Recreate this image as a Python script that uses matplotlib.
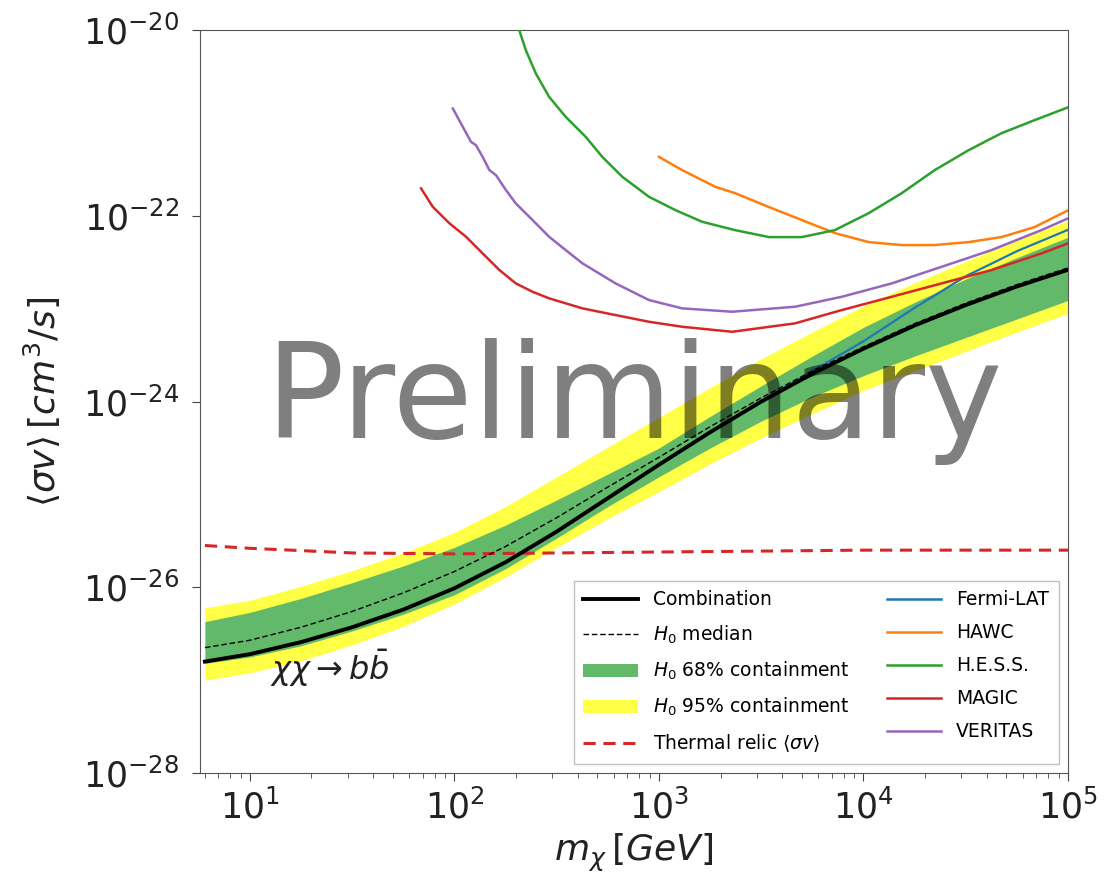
import numpy as np
import matplotlib
matplotlib.use("Agg")
import matplotlib.pyplot as plt
from matplotlib.patches import Patch
from matplotlib.lines import Line2D

# ---- data: log10(mass / GeV) and log10(<sigma v> / cm^3 s^-1) ----
band_logm = [0.78, 1.0, 1.25, 1.5, 1.75, 2.0, 2.25, 2.5, 2.75, 3.0, 3.25, 3.5, 3.75, 4.0, 4.25, 4.5, 4.75, 5.0]
comb_log = [-26.80, -26.72, -26.59, -26.43, -26.24, -26.01, -25.73, -25.40, -25.04, -24.68, -24.33, -24.00,
            -23.70, -23.43, -23.18, -22.96, -22.76, -22.58]
median_log = [-26.65, -26.57, -26.43, -26.26, -26.06, -25.83, -25.56, -25.25, -24.92, -24.60, -24.27, -23.96,
              -23.67, -23.41, -23.16, -22.94, -22.74, -22.56]
g68_hi_log = [-26.37, -26.27, -26.12, -25.95, -25.77, -25.57, -25.33, -25.06, -24.78, -24.50, -24.16, -23.83,
              -23.51, -23.20, -22.93, -22.68, -22.45, -22.23]
g68_lo_log = [-26.82, -26.75, -26.63, -26.47, -26.29, -26.08, -25.80, -25.47, -25.13, -24.81, -24.50, -24.21,
              -23.95, -23.72, -23.51, -23.31, -23.11, -22.91]
y95_hi_log = [-26.22, -26.14, -25.99, -25.82, -25.63, -25.41, -25.13, -24.81, -24.49, -24.17, -23.85, -23.54,
              -23.25, -22.97, -22.72, -22.49, -22.26, -22.05]
y95_lo_log = [-27.00, -26.92, -26.79, -26.62, -26.42, -26.18, -25.89, -25.57, -25.26, -24.97, -24.67, -24.39,
              -24.13, -23.88, -23.67, -23.46, -23.25, -23.05]

thermal_logm = [0.78, 1.0, 1.5, 2.0, 2.5, 3.0, 3.5, 4.0, 4.5, 5.0]
thermal_log = [-25.55, -25.58, -25.63, -25.64, -25.63, -25.62, -25.61, -25.60, -25.60, -25.60]

fermi_logm = [0.78, 1.0, 1.25, 1.5, 1.75, 2.0, 2.25, 2.5, 2.75, 3.0, 3.25, 3.5, 3.75, 4.0, 4.25, 4.5, 4.75, 5.0]
fermi_log = [-26.80, -26.72, -26.59, -26.43, -26.24, -26.01, -25.73, -25.40, -25.04, -24.68, -24.33, -24.00,
             -23.67, -23.35, -22.99, -22.65, -22.38, -22.15]

hawc_logm = [3.000, 3.114, 3.276, 3.372, 3.538, 3.699, 3.860, 4.026, 4.187, 4.348, 4.514, 4.675, 4.836, 5.002]
hawc_log = [-21.364, -21.507, -21.687, -21.755, -21.905, -22.045, -22.185, -22.282, -22.314, -22.314, -22.282,
            -22.228, -22.121, -21.938]

hess_logm = [2.317, 2.349, 2.398, 2.463, 2.544, 2.642, 2.723, 2.821, 2.951, 3.081, 3.211, 3.372, 3.538, 3.699,
             3.860, 4.026, 4.187, 4.348, 4.514, 4.675, 4.836, 5.002]
hess_log = [-20.000, -20.215, -20.466, -20.718, -20.933, -21.149, -21.364, -21.579, -21.794, -21.938, -22.063,
            -22.153, -22.228, -22.228, -22.153, -21.970, -21.755, -21.507, -21.292, -21.109, -20.969, -20.829]

magic_logm = [1.837, 1.894, 1.976, 2.057, 2.138, 2.220, 2.300, 2.382, 2.463, 2.626, 2.788, 2.951, 3.114, 3.358,
              3.666, 3.894, 4.138, 4.382, 4.626, 4.870, 5.000]
magic_log = [-21.704, -21.902, -22.081, -22.225, -22.404, -22.583, -22.727, -22.817, -22.888, -22.996, -23.068,
             -23.140, -23.194, -23.248, -23.157, -23.014, -22.871, -22.727, -22.583, -22.404, -22.296]

veritas_logm = [1.992, 2.041, 2.081, 2.105, 2.138, 2.171, 2.203, 2.252, 2.300, 2.382, 2.463, 2.544, 2.626, 2.707,
                2.788, 2.951, 3.114, 3.358, 3.666, 3.894, 4.138, 4.382, 4.626, 4.870, 5.000]
veritas_log = [-20.843, -21.041, -21.202, -21.238, -21.364, -21.507, -21.561, -21.722, -21.865, -22.045, -22.225,
               -22.368, -22.511, -22.619, -22.727, -22.906, -22.996, -23.032, -22.978, -22.871, -22.727, -22.548,
               -22.368, -22.153, -22.027]

GREEN = "#62b96a"
YELLOW = "#ffff45"


def p(a):
    return 10.0 ** np.asarray(a)


fig = plt.figure(figsize=(11.05, 8.89), dpi=100)
ax = fig.add_axes([0.181, 0.1305, 0.7855, 0.8355])
ax.set_xscale("log")
ax.set_yscale("log")

m = p(band_logm)
ax.fill_between(m, p(y95_lo_log), p(y95_hi_log), color=YELLOW, lw=0, zorder=1)
ax.fill_between(m, p(g68_lo_log), p(g68_hi_log), color=GREEN, lw=0, zorder=2)

ax.plot(p(fermi_logm), p(fermi_log), color="tab:blue", lw=1.6, zorder=3)
ax.plot(p(hawc_logm), p(hawc_log), color="tab:orange", lw=1.8, zorder=3)
ax.plot(p(hess_logm), p(hess_log), color="tab:green", lw=1.8, zorder=3)
ax.plot(p(magic_logm), p(magic_log), color="tab:red", lw=1.8, zorder=3)
ax.plot(p(veritas_logm), p(veritas_log), color="tab:purple", lw=1.8, zorder=3)

ax.plot(p(thermal_logm), p(thermal_log), color="tab:red", ls=(0, (4, 2.5)), lw=2.2, zorder=3)
ax.plot(m, p(comb_log), color="black", lw=2.8, zorder=5)
ax.plot(m, p(median_log), color="black", lw=1.0, ls=(0, (4, 2)), zorder=6)

ax.set_xlim(5.7, 1e5)
ax.set_ylim(1e-28, 1e-20)
ax.set_yticks([1e-28, 1e-26, 1e-24, 1e-22, 1e-20])
ax.yaxis.set_minor_locator(matplotlib.ticker.NullLocator())
ax.tick_params(axis="both", which="major", labelsize=25, length=6, color="#444444", labelcolor="#222222")
ax.tick_params(axis="y", which="major", pad=9)
ax.tick_params(axis="x", which="major", pad=6)
ax.tick_params(axis="x", which="minor", length=3.5, color="#444444")
for s in ax.spines.values():
    s.set_color("#555555")

ax.set_xlabel(r"$m_\chi\,[GeV]$", fontsize=26, labelpad=4, color="#222222")
ax.set_ylabel(r"$\langle\sigma v\rangle\,[cm^3/s]$", fontsize=26, labelpad=14, color="#222222")

ax.text(0.5, 0.451, "Preliminary", transform=ax.transAxes, ha="center", va="baseline",
        fontsize=94, color="black", alpha=0.5, zorder=10)
ax.text(0.081, 0.125, r"$\chi\chi\to b\bar{b}$", transform=ax.transAxes, fontsize=23,
        color="#222222", zorder=7)

handles = [
    Line2D([], [], color="black", lw=2.8),
    Line2D([], [], color="black", lw=1.0, ls=(0, (4, 2))),
    Patch(facecolor=GREEN, edgecolor="none"),
    Patch(facecolor=YELLOW, edgecolor="none"),
    Line2D([], [], color="tab:red", lw=2.2, ls=(0, (4, 2.5))),
    Line2D([], [], color="tab:blue", lw=1.8),
    Line2D([], [], color="tab:orange", lw=1.8),
    Line2D([], [], color="tab:green", lw=1.8),
    Line2D([], [], color="tab:red", lw=1.8),
    Line2D([], [], color="tab:purple", lw=1.8),
]
labels = ["Combination", r"$H_0$ median", r"$H_0$ 68% containment", r"$H_0$ 95% containment",
          r"Thermal relic $\langle\sigma v\rangle$",
          "Fermi-LAT", "HAWC", "H.E.S.S.", "MAGIC", "VERITAS"]
leg = ax.legend(handles, labels, loc="lower right", ncol=2, fontsize=13.5, handlelength=2.9,
                labelspacing=0.75, columnspacing=2.0, borderpad=0.5, framealpha=0.9,
                fancybox=False, edgecolor="#bbbbbb")
leg.set_zorder(8)

fig.savefig("out.png", dpi=100)
